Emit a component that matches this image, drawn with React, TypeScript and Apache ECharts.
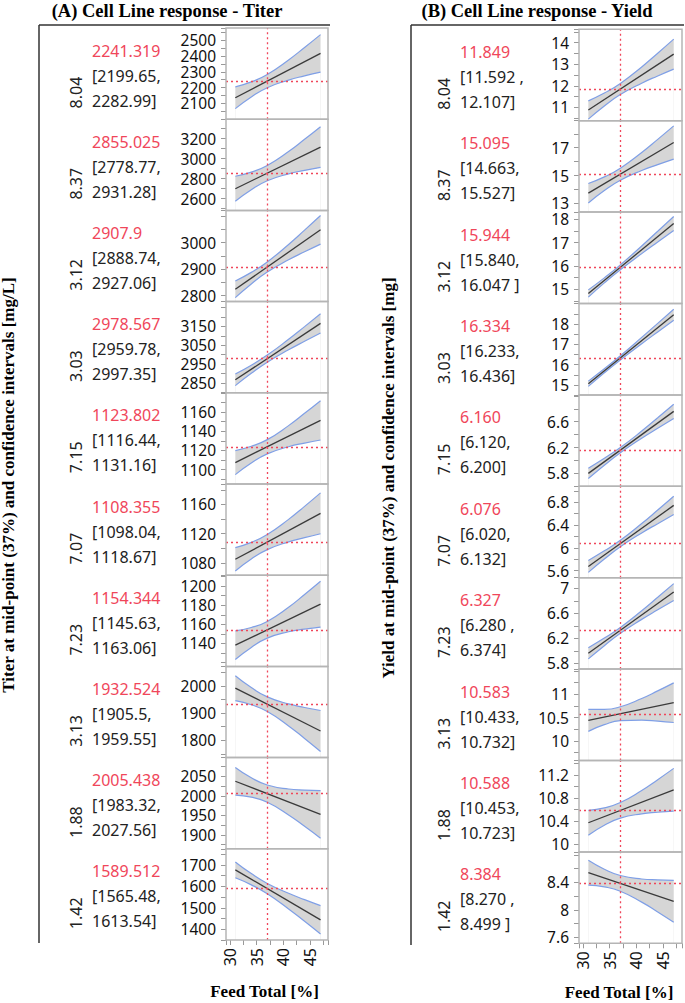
import React, { useEffect, useRef } from "react";
import * as echarts from "echarts";

// ---------- shared x data ----------
const feedX = [31, 34, 37, 41, 44, 47];
const fitX = [31, 47];
const midPoint = 37;
const xTickLabels = [30, 35, 40, 45];

// ---------- (A) Titer ----------
const titerFactor = ["8.04", "8.37", "3.12", "3.03", "7.15", "7.07", "7.23", "3.13", "1.88", "1.42"];
const titerMid = [2241.319, 2855.025, 2907.9, 2978.567, 1123.802, 1108.355, 1154.344, 1932.524, 2005.438, 1589.512];
const titerMidText = ["2241.319", "2855.025", "2907.9", "2978.567", "1123.802", "1108.355", "1154.344", "1932.524", "2005.438", "1589.512"];
const titerCiLow = ["[2199.65,", "[2778.77,", "[2888.74,", "[2959.78,", "[1116.44,", "[1098.04,", "[1145.63,", "[1905.5,", "[1983.32,", "[1565.48,"];
const titerCiHigh = ["2282.99]", "2931.28]", "2927.06]", "2997.35]", "1131.16]", "1118.67]", "1163.06]", "1959.55]", "2027.56]", "1613.54]"];
const titerUpper = [
  [2204.8, 2236.2, 2283.0, 2374.9, 2453.4, 2534.3],
  [2824, 2865, 2931, 3070, 3192, 3318],
  [2855, 2887.6, 2927.1, 2993.2, 3047.3, 3102.5],
  [2897.1, 2944.0, 2997.4, 3081.4, 3148.9, 3217.6],
  [1119.8, 1124.3, 1131.2, 1145.8, 1158.6, 1171.8],
  [1100.8, 1108.0, 1118.7, 1139.5, 1157.3, 1175.8],
  [1153.2, 1156.7, 1163.1, 1177.9, 1191.3, 1205.2],
  [2036.9, 1993.6, 1959.5, 1933.5, 1920.6, 1909.4],
  [2072.8, 2046.3, 2027.6, 2017.4, 2014.8, 2013.3],
  [1713.9, 1659.4, 1613.5, 1567.7, 1538.1, 1509.9],
];
const titerLower = [
  [2067.8, 2141.4, 2199.6, 2247.7, 2274.2, 2298.3],
  [2574, 2689, 2779, 2848, 2882, 2912],
  [2792, 2843.9, 2888.7, 2935.0, 2965.3, 2994.5],
  [2835.1, 2900.6, 2959.8, 3025.7, 3070.7, 3114.6],
  [1094.8, 1106.9, 1116.4, 1123.8, 1127.6, 1130.8],
  [1068.8, 1085.2, 1098.0, 1108.7, 1114.5, 1119.8],
  [1123.2, 1135.9, 1145.6, 1152.3, 1155.1, 1157.2],
  [1945.9, 1930.4, 1905.5, 1853.1, 1807.2, 1759.4],
  [2001.8, 1996.5, 1983.3, 1951.0, 1921.8, 1891.3],
  [1639.9, 1607.0, 1565.5, 1494.9, 1437.1, 1377.9],
];
const titerFit = [
  [2136.3, 2416.3], [2699, 3115], [2823.5, 3048.5], [2866.1, 3166.1], [1107.3, 1151.3],
  [1084.8, 1147.8], [1138.2, 1181.2], [1991.4, 1834.4], [2037.3, 1952.3], [1676.9, 1443.9],
];
const titerYMin = [2001, 2483, 2777, 2797, 1085, 1063, 1116, 1737, 1864, 1350];
const titerYMax = [2576, 3393, 3122, 3282, 1180, 1188, 1211.5, 2071, 2098, 1775];
const titerYStep = [50, 100, 50, 50, 10, 20, 10, 50, 25, 50];
const titerYLabels = [
  [2100, 2200, 2300, 2400, 2500], [2600, 2800, 3000, 3200], [2800, 2900, 3000], [2850, 2950, 3050, 3150],
  [1100, 1120, 1140, 1160], [1080, 1120, 1160], [1140, 1160, 1180, 1200], [1800, 1900, 2000],
  [1900, 1950, 2000, 2050], [1400, 1500, 1600, 1700],
];

// ---------- (B) Yield ----------
const yieldFactor = ["8.04", "8.37", "3.12", "3.03", "7.15", "7.07", "7.23", "3.13", "1.88", "1.42"];
const yieldMid = [11.849, 15.095, 15.944, 16.334, 6.16, 6.076, 6.327, 10.583, 10.588, 8.384];
const yieldMidText = ["11.849", "15.095", "15.944", "16.334", "6.160", "6.076", "6.327", "10.583", "10.588", "8.384"];
const yieldCiLow = ["[11.592 ,", "[14.663,", "[15.840,", "[16.233,", "[6.120,", "[6.020,", "[6.280 ,", "[10.433,", "[10.453,", "[8.270 ,"];
const yieldCiHigh = ["12.107]", "15.527]", "16.047 ]", "16.436]", "6.200]", "6.132]", "6.374]", "10.732]", "10.723]", "8.499 ]"];
const yieldUpper = [
  [11.302, 11.662, 12.107, 12.874, 13.511, 14.164],
  [14.43, 14.903, 15.527, 16.654, 17.597, 18.565],
  [14.974, 15.49, 16.047, 16.859, 17.487, 18.119],
  [15.189, 15.794, 16.436, 17.34, 18.033, 18.729],
  [5.88, 6.034, 6.2, 6.455, 6.661, 6.87],
  [5.78, 5.948, 6.132, 6.426, 6.663, 6.905],
  [6.05, 6.204, 6.374, 6.641, 6.856, 7.075],
  [10.675, 10.675, 10.732, 10.91, 11.073, 11.245],
  [10.589, 10.632, 10.723, 10.932, 11.119, 11.314],
  [8.72, 8.59, 8.499, 8.448, 8.435, 8.429],
];
const yieldLower = [
  [10.452, 11.064, 11.592, 12.12, 12.456, 12.774],
  [13.03, 13.923, 14.663, 15.356, 15.779, 16.175],
  [14.664, 15.274, 15.84, 16.529, 17.027, 17.519],
  [14.929, 15.6, 16.233, 17.028, 17.611, 18.189],
  [5.72, 5.926, 6.12, 6.345, 6.499, 6.65],
  [5.57, 5.804, 6.02, 6.262, 6.425, 6.585],
  [5.87, 6.082, 6.28, 6.503, 6.656, 6.805],
  [10.205, 10.348, 10.433, 10.446, 10.425, 10.395],
  [10.159, 10.33, 10.453, 10.528, 10.555, 10.574],
  [8.36, 8.334, 8.27, 8.112, 7.969, 7.819],
];
const yieldFit = [
  [10.877, 13.469], [13.73, 17.37], [14.819, 17.819], [15.059, 18.459], [5.8, 6.76],
  [5.675, 6.745], [5.96, 6.94], [10.44, 10.82], [10.374, 10.944], [8.54, 8.124],
];
const yieldYMin = [10.38, 12.37, 14.39, 14.51, 5.6, 5.477, 5.707, 9.58, 9.87, 7.513];
const yieldYMax = [14.62, 18.94, 18.31, 19.01, 7.015, 7.08, 7.17, 11.54, 11.45, 8.842];
const yieldYStep = [0.5, 1, 0.5, 0.5, 0.2, 0.2, 0.2, 0.25, 0.2, 0.2];
const yieldYLabels = [
  [11, 12, 13, 14], [13, 15, 17], [15, 16, 17, 18], [15, 16, 17, 18], [5.8, 6.2, 6.6],
  [5.6, 6, 6.4, 6.8], [5.8, 6.2, 6.6, 7], [10, 10.5, 11], [10, 10.4, 10.8, 11.2], [7.6, 8, 8.4],
];

const SANS = '"Noto Sans", "Open Sans", sans-serif';
const SERIF = '"Liberation Serif", "Times New Roman", serif';
const RED = "#f0465a";
const BLUE = "#7f9fe6";
const BAND = "#d6d6d6";
const BORDER = "#b5b5b5";

function labelFmt(labels: number[]) {
  return (v: number) => {
    const t = labels.find((l) => Math.abs(l - v) < 1e-6 * Math.max(1, Math.abs(l)));
    return t === undefined ? "" : String(t);
  };
}

function buildOption() {
  const grids: any[] = [];
  const xAxes: any[] = [];
  const yAxes: any[] = [];
  const series: any[] = [];
  const graphics: any[] = [];

  const panels = [
    {
      factor: titerFactor, mid: titerMid, midText: titerMidText, ciLow: titerCiLow, ciHigh: titerCiHigh,
      upper: titerUpper, lower: titerLower, fit: titerFit,
      yMin: titerYMin, yMax: titerYMax, yStep: titerYStep, yLabels: titerYLabels,
      left: 226, width: 102, top0: 28, rowH: 91.2, xMin: 29.25, xMax: 48.4, factorX: 76, textX: 92,
    },
    {
      factor: yieldFactor, mid: yieldMid, midText: yieldMidText, ciLow: yieldCiLow, ciHigh: yieldCiHigh,
      upper: yieldUpper, lower: yieldLower, fit: yieldFit,
      yMin: yieldYMin, yMax: yieldYMax, yStep: yieldYStep, yLabels: yieldYLabels,
      left: 579, width: 103, top0: 29.3, rowH: 91.4, xMin: 29.25, xMax: 48.55, factorX: 444, textX: 460,
    },
  ];

  panels.forEach((P) => {
    for (let r = 0; r < 10; r++) {
      const k = grids.length;
      const top = P.top0 + r * P.rowH;
      const last = r === 9;
      grids.push({
        left: P.left, top, width: P.width, height: P.rowH, show: false,
        containLabel: false, outerBoundsMode: "none",
      });
      xAxes.push({
        type: "value", gridIndex: k, min: P.xMin, max: P.xMax,
        minInterval: 2.5, maxInterval: 2.5, splitNumber: 8,
        axisLine: { show: false }, splitLine: { show: false },
        axisTick: { show: last, length: 5, lineStyle: { color: "#999", width: 1 } },
        axisLabel: {
          show: last, rotate: 90, margin: 8, fontSize: 16, fontFamily: SANS, color: "#111",
          hideOverlap: false, formatter: labelFmt(xTickLabels),
        },
      });
      yAxes.push({
        type: "value", gridIndex: k, min: P.yMin[r], max: P.yMax[r],
        minInterval: P.yStep[r], maxInterval: P.yStep[r], splitNumber: 10,
        axisLine: { show: false }, splitLine: { show: false },
        axisTick: { show: true, length: 5, lineStyle: { color: "#999", width: 1 } },
        axisLabel: {
          margin: 10, fontSize: 15.5, lineHeight: 14, fontFamily: SANS, color: "#111",
          hideOverlap: false, formatter: labelFmt(P.yLabels[r]),
        },
      });
      const up = feedX.map((x, i) => [x, P.upper[r][i]]);
      const lo = feedX.map((x, i) => [x, P.lower[r][i]]);
      // gray band: fill under upper curve, then cover under lower curve with white
      series.push({
        type: "line", xAxisIndex: k, yAxisIndex: k, data: up, smooth: true, symbol: "none",
        lineStyle: { width: 0, opacity: 0 }, areaStyle: { color: BAND, opacity: 1, origin: "start" },
        silent: true, z: 1,
      });
      series.push({
        type: "line", xAxisIndex: k, yAxisIndex: k, data: lo, smooth: true, symbol: "none",
        lineStyle: { width: 0, opacity: 0 }, areaStyle: { color: "#ffffff", opacity: 1, origin: "start" },
        silent: true, z: 2,
      });
      series.push({
        type: "line", xAxisIndex: k, yAxisIndex: k, data: up, smooth: true, symbol: "none",
        lineStyle: { color: BLUE, width: 1.2 }, silent: true, z: 3,
      });
      series.push({
        type: "line", xAxisIndex: k, yAxisIndex: k, data: lo, smooth: true, symbol: "none",
        lineStyle: { color: BLUE, width: 1.2 }, silent: true, z: 3,
      });
      series.push({
        type: "line", xAxisIndex: k, yAxisIndex: k,
        data: fitX.map((x, i) => [x, P.fit[r][i]]), symbol: "none",
        lineStyle: { color: "#3a3a3a", width: 1.3 }, silent: true, z: 4,
        markLine: {
          silent: true, symbol: ["none", "none"], label: { show: false },
          lineStyle: { color: RED, type: [2, 3], width: 1.3 },
          data: [{ yAxis: P.mid[r] }, { xAxis: midPoint }],
        },
      });
      // box border
      graphics.push({
        type: "rect", silent: true, z: 50,
        shape: { x: P.left, y: top, width: P.width, height: P.rowH },
        style: { fill: "none", stroke: BORDER, lineWidth: 1.5 },
      });
      // texts
      graphics.push({
        type: "text", x: P.textX, y: top + 22.5, silent: true, z: 50,
        style: { text: P.midText[r], fill: RED, fontSize: 16, fontFamily: SANS, align: "left", verticalAlign: "middle" },
      });
      graphics.push({
        type: "text", x: P.textX, y: top + 47.5, silent: true, z: 50,
        style: { text: P.ciLow[r], fill: "#222", fontSize: 16, fontFamily: SANS, align: "left", verticalAlign: "middle" },
      });
      graphics.push({
        type: "text", x: P.textX, y: top + 72.5, silent: true, z: 50,
        style: { text: P.ciHigh[r], fill: "#222", fontSize: 16, fontFamily: SANS, align: "left", verticalAlign: "middle" },
      });
      graphics.push({
        type: "text", x: P.factorX, y: top + 64.5, rotation: Math.PI / 2, silent: true, z: 50,
        style: { text: P.factor[r], fill: "#222", fontSize: 16, fontFamily: SANS, align: "center", verticalAlign: "middle" },
      });
    }
  });

  // frames
  const frame = (x1: number, y1: number, x2: number, y2: number) => ({
    type: "line", silent: true, z: 50,
    shape: { x1, y1, x2, y2 }, style: { stroke: "#333", lineWidth: 1.5 },
  });
  graphics.push(frame(39, 25, 330, 25), frame(39, 25, 39, 943));
  graphics.push(frame(411, 25, 684, 25), frame(411, 25, 411, 945));

  const boldText = (text: string, x: number, y: number, size: number, rot = 0) => ({
    type: "text", x, y, rotation: rot, silent: true, z: 50,
    style: { text, fill: "#000", fontSize: size, fontWeight: "bold", fontFamily: SERIF, align: "center", verticalAlign: "middle" },
  });
  graphics.push(boldText("(A) Cell Line response - Titer", 167, 11, 18.5));
  graphics.push(boldText("(B) Cell Line response - Yield", 537, 11, 18.5));
  graphics.push(boldText("Titer at mid-point (37%) and confidence intervals [mg/L]", 8, 485, 17, Math.PI / 2));
  graphics.push(boldText("Yield at mid-point (37%) and confidence intervals [mg]", 388, 478, 17, Math.PI / 2));
  graphics.push(boldText("Feed Total [%]", 264.5, 991, 17));
  graphics.push(boldText("Feed Total [%]", 619, 992, 17));

  return {
    animation: false,
    backgroundColor: "#ffffff",
    grid: grids,
    xAxis: xAxes,
    yAxis: yAxes,
    series,
    graphic: { elements: graphics },
  };
}

export default function App() {
  const ref = useRef<HTMLDivElement>(null);
  useEffect(() => {
    if (!ref.current) return;
    const chart = echarts.init(ref.current, undefined, { renderer: "svg" });
    chart.setOption(buildOption() as any);
    return () => chart.dispose();
  }, []);
  return (
    <div
      ref={ref}
      style={{ position: "fixed", left: 0, top: 0, width: 685, height: 1003, background: "#fff" }}
    />
  );
}
